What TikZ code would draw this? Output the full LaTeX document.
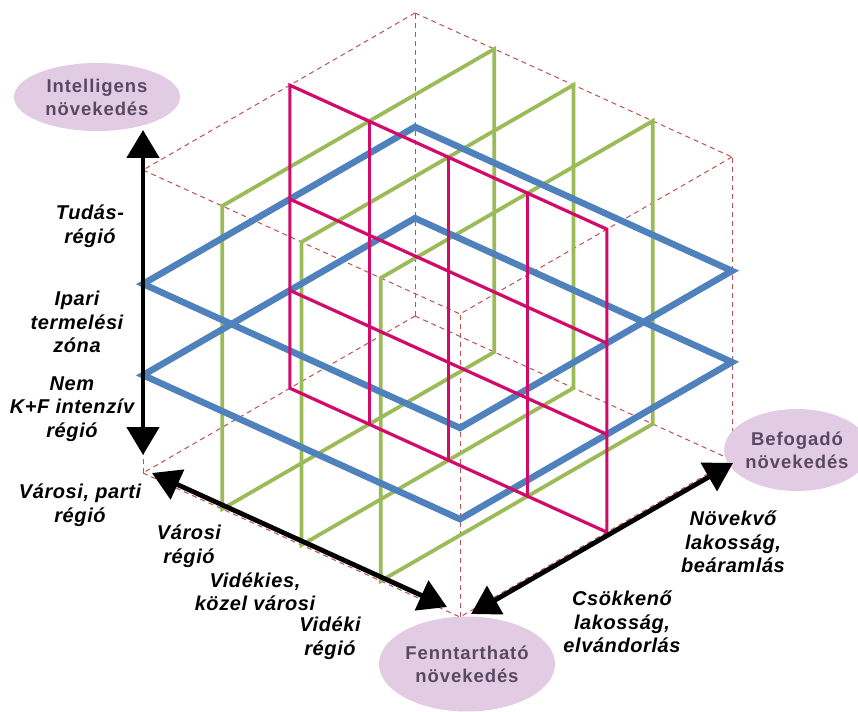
\documentclass[tikz,border=0pt]{standalone}
\usepackage{fontspec}
\setmainfont{Liberation Sans}
\usepackage{tikz}
\usetikzlibrary{calc,arrows.meta,shapes.geometric}
\definecolor{gridblue}{RGB}{79,129,189}
\definecolor{gridgreen}{RGB}{155,187,89}
\definecolor{gridred}{RGB}{210,10,105}
\definecolor{cubeline}{RGB}{192,80,77}
\definecolor{ovalfill}{RGB}{226,204,228}
\definecolor{ovaltext}{RGB}{88,72,98}

\begin{document}
\begin{tikzpicture}[x=1pt,y=-1pt,
    cube/.style={cubeline,line width=1pt,dash pattern=on 5pt off 4pt},
    blueplane/.style={gridblue,line width=6.5pt},
    greenplane/.style={gridgreen,line width=3.8pt},
    redplane/.style={gridred,line width=3.2pt},
    axis/.style={line width=4.8pt,{Triangle[width=32pt,length=28pt]}-{Triangle[width=32pt,length=28pt]}},
    goal/.style={ellipse,fill=ovalfill,text=ovaltext,inner sep=0pt,align=center,
        font=\bfseries\fontsize{18.5}{23}\selectfont\addfontfeatures{LetterSpace=5}},
    lbl/.style={align=center,font=\bfseries\itshape\fontsize{20}{23.5}\selectfont\addfontfeatures{LetterSpace=3}}]
    \useasboundingbox[fill=white](0,0) rectangle (858,711);
    \begin{scope}[shift={(415,316)},x={(-272pt,-157pt)},y={(317pt,-144pt)},z={(0pt,303pt)}]
        \foreach \a/\b in {0/0,0/1,1/0,1/1} {
            \draw[cube](\a,\b,0) -- (\a,\b,1);
            \draw[cube](0,\a,\b) -- (1,\a,\b);
            \draw[cube](\a,0,\b) -- (\a,1,\b);
        }
        \foreach \s in {0.25,0.5,0.75}
            \draw[greenplane](0,\s,0) -- (1,\s,0) -- (1,\s,1) -- (0,\s,1) -- cycle;
        \foreach \h in {0.323,0.624}
            \draw[blueplane](0,0,\h) -- (1,0,\h) -- (1,1,\h) -- (0,1,\h) -- cycle;
        \draw[redplane](0.46,0,0) -- (0.46,1,0) -- (0.46,1,1) -- (0.46,0,1) -- cycle;
        \foreach \s in {0.25,0.5,0.75}
            \draw[redplane](0.46,\s,0) -- (0.46,\s,1);
        \foreach \h in {0.323,0.624}
            \draw[redplane](0.46,0,\h) -- (0.46,1,\h);
    \end{scope}
    \node[goal,minimum width=166pt,minimum height=68pt](intel) at (97,97) {Intelligens\\növekedés};
    \node[goal,minimum width=130pt,minimum height=82pt](befog) at (797,450) {Befogadó\\növekedés};
    \node[goal,minimum width=176pt,minimum height=95pt](fennt) at (467,664) {Fenntartható\\növekedés};
    \coordinate (vtop) at (143,130);
    \coordinate (vbot) at (143,455);
    \coordinate (ltop) at (152,473);
    \coordinate (lbot) at (447,607);
    \coordinate (rbot) at (471,614);
    \coordinate (rtop) at (733,463);
    \draw[axis](vtop) -- (vbot);
    \draw[axis](ltop) -- (lbot);
    \draw[axis](rbot) -- (rtop);
    \node[lbl](tudas) at (90,226) {Tudás-\\régió};
    \node[lbl](ipari) at (77,322) {Ipari\\termelési\\zóna};
    \node[lbl](nemkf) at (72,409) {Nem\\K+F intenzív\\régió};
    \node[lbl](varparti) at (80,505) {Városi, parti\\régió};
    \node[lbl](varosi) at (189,546) {Városi\\régió};
    \node[lbl](videkies) at (255,592) {Vidékies,\\közel városi};
    \node[lbl](videki) at (330,638) {Vidéki\\régió};
    \node[lbl](novekvo) at (733,542) {Növekvő\\lakosság,\\beáramlás};
    \node[lbl](csokkeno) at (622,622) {Csökkenő\\lakosság,\\elvándorlás};
\end{tikzpicture}
\end{document}
